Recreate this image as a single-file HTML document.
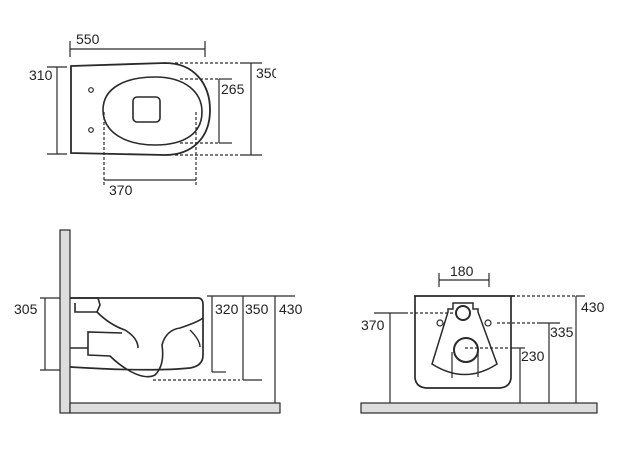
<!DOCTYPE html>
<html><head><style>
html,body{margin:0;padding:0;background:#fff;}
svg{display:block;}
text{font-family:"Liberation Sans",sans-serif;font-size:14px;fill:#222;}
</style></head><body>
<svg width="631" height="450" viewBox="0 0 631 450" xmlns="http://www.w3.org/2000/svg">
<defs><clipPath id="c350"><rect x="0" y="0" width="276" height="450"/></clipPath></defs>
<g fill="none" stroke="#2a2a2a" stroke-width="1.2">
<!-- TOP VIEW -->
<line x1="70" y1="49" x2="205" y2="49"/>
<line x1="70" y1="41" x2="70" y2="57"/>
<line x1="205" y1="41" x2="205" y2="57"/>
<path d="M71,66 L165,63 C195,63 210,85 210,110 C210,138 192,155 165,155 L71,153 Z" stroke-width="1.8"/>
<line x1="57" y1="67" x2="57" y2="154"/>
<line x1="47" y1="67" x2="67" y2="67"/>
<line x1="47" y1="154" x2="67" y2="154"/>
<line x1="251" y1="63" x2="251" y2="155"/>
<line x1="243" y1="63" x2="262" y2="63"/>
<line x1="243" y1="155" x2="262" y2="155"/>
<g stroke-dasharray="3,2">
<line x1="175" y1="63" x2="243" y2="63"/>
<line x1="175" y1="155" x2="243" y2="155"/>
<line x1="180" y1="79" x2="219" y2="79"/>
<line x1="180" y1="143" x2="219" y2="143"/>
<line x1="104" y1="112" x2="104" y2="185"/>
<line x1="196" y1="112" x2="196" y2="185"/>
</g>
<line x1="219" y1="79" x2="219" y2="143"/>
<line x1="219" y1="79" x2="232" y2="79"/>
<line x1="219" y1="143" x2="232" y2="143"/>
<path d="M103,110 C103,88 125,77 155,77 C185,77 202,92 202,112 C202,133 185,145 155,145 C125,145 103,132 103,110 Z" stroke-width="1.6"/>
<rect x="133" y="97" width="27" height="25" rx="4" stroke-width="1.6"/>
<circle cx="91" cy="90" r="2.3"/>
<circle cx="91" cy="130" r="2.3"/>
<line x1="104" y1="180" x2="196" y2="180"/>

<!-- SIDE VIEW -->
<rect x="60" y="230" width="10" height="183" fill="#ddd"/>
<rect x="70" y="403" width="210" height="10" fill="#ddd"/>
<line x1="45" y1="298" x2="45" y2="370"/>
<line x1="40" y1="298" x2="60" y2="298"/>
<line x1="40" y1="370" x2="60" y2="370"/>
<path d="M70,298 L198,298 Q203,298 203,305 L203,355 Q203,366 190,368 Q150,372 70,367" stroke-width="1.7"/>
<path d="M70,298 L98,298 L100,305 L97,312 L75,312 L75,303" stroke-width="1.6"/>
<path d="M97,312 Q110,325 125,330 Q138,338 138,348" stroke-width="1.6"/>
<path d="M70,348 L88,348 L88,332 L122,333 M88,348 L88,355 L110,356 Q118,364 128,370 Q145,380 155,375 Q165,365 162,345 Q166,330 180,328 Q198,322 203,318" stroke-width="1.6"/>
<path d="M190,330 Q200,340 200,347" stroke-width="1.4"/>
<line x1="207" y1="296" x2="295" y2="296"/>
<line x1="212" y1="296" x2="212" y2="372"/>
<line x1="212" y1="372" x2="226" y2="372"/>
<line x1="243" y1="296" x2="243" y2="380"/>
<line x1="243" y1="380" x2="262" y2="380"/>
<line x1="153" y1="380" x2="240" y2="380" stroke-dasharray="3,2"/>
<line x1="275" y1="296" x2="275" y2="403"/>

<!-- FRONT VIEW -->
<rect x="361" y="403" width="236" height="10" fill="#ddd"/>
<line x1="439" y1="280" x2="489" y2="280"/>
<line x1="439" y1="273" x2="439" y2="287"/>
<line x1="489" y1="273" x2="489" y2="287"/>
<path d="M414,296 L515,296 M415,296 L415,378 Q416,387 426,388 L500,388 Q510,387 511,378 L511,296" stroke-width="1.7"/>
<path d="M453,303 L473,303 L473,309 L478,309 L478,312 L497,364 Q465,385 432,364 L448,312 L448,309 L453,309 Z" stroke-width="1.5"/>
<circle cx="463" cy="313" r="7" stroke-width="2"/>
<circle cx="466" cy="350" r="12" stroke-width="2"/>
<line x1="452" y1="352" x2="452" y2="378"/>
<line x1="478" y1="352" x2="478" y2="377"/>
<circle cx="440" cy="323" r="3"/>
<circle cx="488" cy="323" r="3"/>
<g stroke-dasharray="3,2">
<line x1="517" y1="296" x2="576" y2="296"/>
<line x1="405" y1="313" x2="455" y2="313"/>
<line x1="497" y1="323" x2="538" y2="323"/>
<line x1="465" y1="348" x2="512" y2="348"/>
</g>
<line x1="576" y1="296" x2="585" y2="296"/>
<line x1="576" y1="296" x2="576" y2="403"/>
<line x1="374" y1="313" x2="405" y2="313"/>
<line x1="390" y1="313" x2="390" y2="403"/>
<line x1="538" y1="323" x2="560" y2="323"/>
<line x1="549" y1="323" x2="549" y2="403"/>
<line x1="512" y1="348" x2="525" y2="348"/>
<line x1="520" y1="348" x2="520" y2="403"/>
</g>
<text x="76" y="44">550</text>
<text x="29" y="80">310</text>
<text x="256" y="78" clip-path="url(#c350)">350</text>
<text x="221" y="94">265</text>
<text x="109" y="195">370</text>
<text x="14" y="314">305</text>
<text x="215" y="314">320</text>
<text x="245" y="314">350</text>
<text x="279" y="314">430</text>
<text x="450" y="276">180</text>
<text x="581" y="312">430</text>
<text x="361" y="330">370</text>
<text x="550" y="337">335</text>
<text x="521" y="361">230</text>
</svg>
</body></html>
